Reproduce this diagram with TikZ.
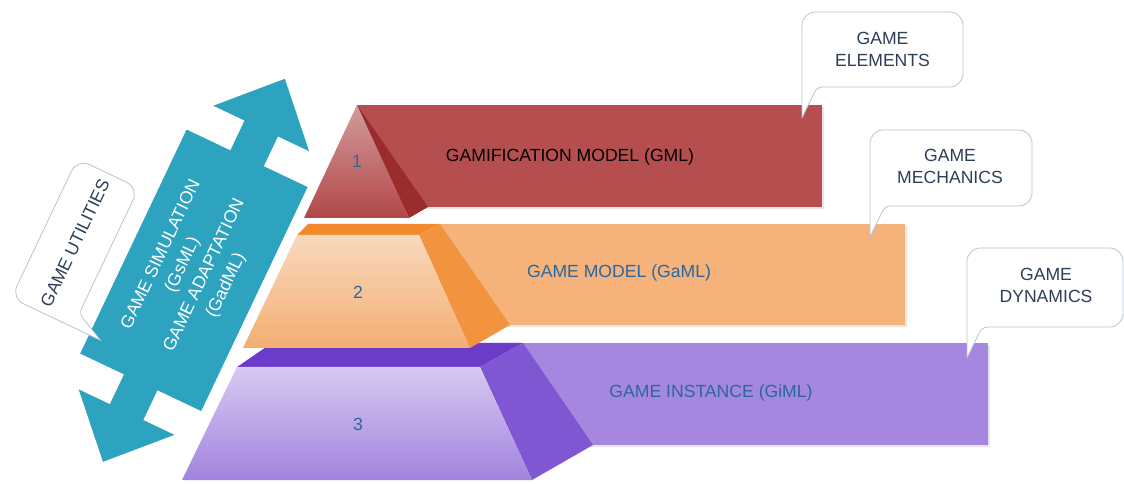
\documentclass[tikz,border=0pt]{standalone}
\usepackage{fontspec}
\setmainfont{Liberation Sans}
\usetikzlibrary{shadows}
\definecolor{arrowblue}{HTML}{2EA3BF}
\definecolor{labelblue}{HTML}{2A679F}
\definecolor{bubbleline}{HTML}{B8C4D4}
\definecolor{bubbleink}{HTML}{2E3E55}
\definecolor{redband}{HTML}{B54E4E}
\definecolor{redtop}{HTML}{D29C9C}
\definecolor{redbottom}{HTML}{B24747}
\definecolor{redside}{HTML}{9A2C2C}
\definecolor{orangeband}{HTML}{F5B27A}
\definecolor{orangetop}{HTML}{F28A2B}
\definecolor{orangeside}{HTML}{F2943F}
\definecolor{orangelight}{HTML}{F9D9BE}
\definecolor{orangedark}{HTML}{F3AE72}
\definecolor{purpleband}{HTML}{A687E0}
\definecolor{purpletop}{HTML}{6B3CC9}
\definecolor{purpleside}{HTML}{7F57D3}
\definecolor{purplelight}{HTML}{D7C9F1}
\definecolor{purpledark}{HTML}{A283DE}
% callout box round (0,0): width, height
\newcommand{\callbox}[2]{%
  \draw[bubble] (-#1/2,#2/2+31) [rounded corners=10] -- (-#1/2,-#2/2) -- (#1/2,-#2/2) -- (#1/2,#2/2) [rounded corners=4] -- (-#1/2+15,#2/2) [sharp corners] -- cycle;
}
\begin{document}
\begin{tikzpicture}[x=0.75pt,y=-0.75pt,line join=round,font=\fontsize{13.2}{16.5}\selectfont,
	bubble/.style={draw=bubbleline,fill=white,line width=0.6pt},
	bubbletext/.style={text=bubbleink,align=center},
	layertext/.style={text=labelblue},
	shadowed/.style={drop shadow={shadow xshift=1.2pt,shadow yshift=-1.2pt,opacity=0.2}}]
	\useasboundingbox (0,0) rectangle (1124,484);
	% double arrow
	\begin{scope}[shift={(193.9,270.3)},rotate=64.6]
		\fill[arrowblue] (212,0) -- (157,-53) -- (157,-18.5) -- (124,-18.5) -- (124,-67) -- (-124,-67) -- (-124,-18.5) -- (-157,-18.5) -- (-157,-53) -- (-212,0) -- (-157,53) -- (-157,18.5) -- (-124,18.5) -- (-124,67) -- (124,67) -- (124,18.5) -- (157,18.5) -- (157,53) -- cycle;
		\node[rotate=64.6,text=white,align=center,font=\fontsize{13.2}{18}\selectfont] (simulation) at (0,0) {GAME SIMULATION\\(GsML)\\GAME ADAPTATION\\(GadML)};
	\end{scope}
	\begin{scope}[shift={(75,243)},rotate=64.6]
		\callbox{154}{68}
		\node[rotate=64.6,bubbletext] (utilities) at (0,0) {GAME UTILITIES};
	\end{scope}
	% layer 3
	\path
	(237,367) coordinate (Pa)
	(480,367) coordinate (Pb)
	(532,480) coordinate (Pc)
	(182,480) coordinate (Pd)
	(272,343) coordinate (Pe)
	(523,343) coordinate (Pf)
	(593,445) coordinate (Pg);
	\fill[purpleband,shadowed] (Pf) rectangle (988,445);
	\fill[purpletop] (Pa)--(Pe)--(Pf)--(Pb)--cycle;
	\fill[purpleside] (Pb)--(Pf)--(Pg)--(Pc)--cycle;
	\shade[top color=purplelight,bottom color=purpledark] (Pa)--(Pb)--(Pc)--(Pd)--cycle;
	\node[layertext] (three) at (358,424) {3};
	\node[layertext] (instance) at (711,393) {GAME INSTANCE (GiML)};
	% layer 2
	\path
	(297,235) coordinate (Oa)
	(419,235) coordinate (Ob)
	(470,348) coordinate (Oc)
	(243,348) coordinate (Od)
	(308,224) coordinate (Oe)
	(440,224) coordinate (Of)
	(510,325) coordinate (Og);
	\fill[orangeband,shadowed] (Of) rectangle (905,325);
	\fill[orangetop] (Oa)--(Oe)--(Of)--(Ob)--cycle;
	\fill[orangeside] (Ob)--(Of)--(Og)--(Oc)--cycle;
	\shade[top color=orangelight,bottom color=orangedark] (Oa)--(Ob)--(Oc)--(Od)--cycle;
	\node[layertext] (two) at (358,292) {2};
	\node[layertext] (model) at (619,273) {GAME MODEL (GaML)};
	% layer 1
	\path
	(357,105) coordinate (Ra)
	(409,218) coordinate (Rb)
	(304,218) coordinate (Rc)
	(428,207) coordinate (Rd);
	\fill[redband,shadowed] (Ra) rectangle (822,207);
	\fill[redside] (Ra)--(Rd)--(Rb)--cycle;
	\shade[top color=redtop,bottom color=redbottom] (Ra)--(Rb)--(Rc)--cycle;
	\node[layertext] (one) at (357,161) {1};
	\node (gamification) at (570,157) {GAMIFICATION MODEL (GML)};
	% callouts
	\begin{scope}[shift={(882.5,49.5)}]
		\callbox{161}{75}
		\node[bubbletext] (elements) at (0,0) {GAME\\ELEMENTS};
	\end{scope}
	\begin{scope}[shift={(951,168)}]
		\callbox{162}{76}
		\node[bubbletext] (mechanics) at (-1,-1.5) {GAME\\MECHANICS};
	\end{scope}
	\begin{scope}[shift={(1045,287.5)}]
		\callbox{156}{79}
		\node[bubbletext] (dynamics) at (1,-2.5) {GAME\\DYNAMICS};
	\end{scope}
\end{tikzpicture}
\end{document}
